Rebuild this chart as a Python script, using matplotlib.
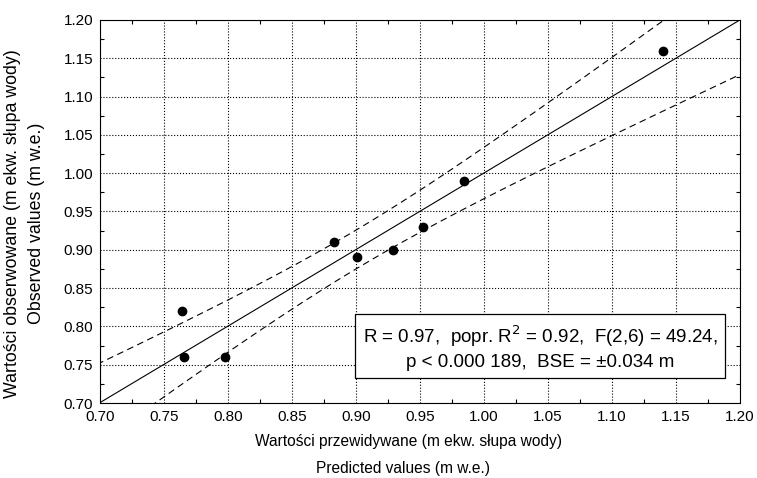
import numpy as np
import matplotlib
matplotlib.use('Agg')
import matplotlib.pyplot as plt
from matplotlib.ticker import MultipleLocator

plt.rcParams['font.family'] = ['Liberation Sans', 'DejaVu Sans']

# predicted vs observed (m w.e.)
predicted = [0.764, 0.766, 0.798, 0.883, 0.901, 0.929, 0.952, 0.984, 1.140]
observed = [0.82, 0.76, 0.76, 0.91, 0.89, 0.90, 0.93, 0.99, 1.16]
ticks = [0.70, 0.75, 0.80, 0.85, 0.90, 0.95, 1.00, 1.05, 1.10, 1.15, 1.20]
stats_text = ('R = 0.97,  popr. R$^2$ = 0.92,  F(2,6) = 49.24,\n'
              'p < 0.000 189,  BSE = \u00b10.034 m')

x = np.array(predicted)
y = np.array(observed)
n = len(x)
b, a = np.polyfit(x, y, 1)
resid = y - (a + b * x)
s = np.sqrt(np.sum(resid ** 2) / (n - 2))
t_crit = 2.365  # 95 %, df = 7
xx = np.linspace(0.69, 1.21, 200)
fit = a + b * xx
half = t_crit * s * np.sqrt(1.0 / n + (xx - x.mean()) ** 2 / np.sum((x - x.mean()) ** 2))

fig = plt.figure(figsize=(7.57, 4.78), dpi=100)
ax = fig.add_axes([0.1321, 0.1569, 0.8454, 0.8013])

ax.plot(xx, fit, color='black', linewidth=0.8)
ax.plot(xx, fit + half, color='black', linewidth=0.8, linestyle=(0, (6, 4)))
ax.plot(xx, fit - half, color='black', linewidth=0.8, linestyle=(0, (6, 4)))
ax.plot(x, y, 'o', color='black', markersize=6)

ax.set_xlim(0.70, 1.20)
ax.set_ylim(0.70, 1.20)
ax.set_xticks(ticks)
ax.set_yticks(ticks)
ax.set_xticklabels(['%.2f' % v for v in ticks])
ax.set_yticklabels(['%.2f' % v for v in ticks])
ax.xaxis.set_minor_locator(MultipleLocator(0.025))
ax.yaxis.set_minor_locator(MultipleLocator(0.025))
ax.tick_params(which='both', direction='in', top=True, right=True,
               length=3, width=0.8, labelsize=11)
ax.tick_params(which='major', length=0, pad=5)
ax.grid(True, which='major', color='black', linestyle=':', linewidth=0.8)
for sp in ax.spines.values():
    sp.set_linewidth(0.8)

# axis titles (two lines each, Polish / English)
fig.text(0.539, 0.0774, 'Warto\u015bci przewidywane (m ekw. s\u0142upa wody)',
         ha='center', va='center', fontsize=11.2)
fig.text(0.533, 0.0209, 'Predicted values (m w.e.)',
         ha='center', va='center', fontsize=11.2)
fig.text(0.016, 0.533, 'Warto\u015bci obserwowane (m ekw. s\u0142upa wody)',
         ha='center', va='center', rotation=90, fontsize=12.8)
fig.text(0.048, 0.533, 'Observed values (m w.e.)',
         ha='center', va='center', rotation=90, fontsize=12.8)

ax.text(0.6875, 0.145, stats_text, transform=ax.transAxes, ha='center', va='center',
        fontsize=13.5, linespacing=1.35,
        bbox=dict(boxstyle='square,pad=0.4', facecolor='white', edgecolor='black', linewidth=0.9))

fig.savefig('out.png', dpi=100)
